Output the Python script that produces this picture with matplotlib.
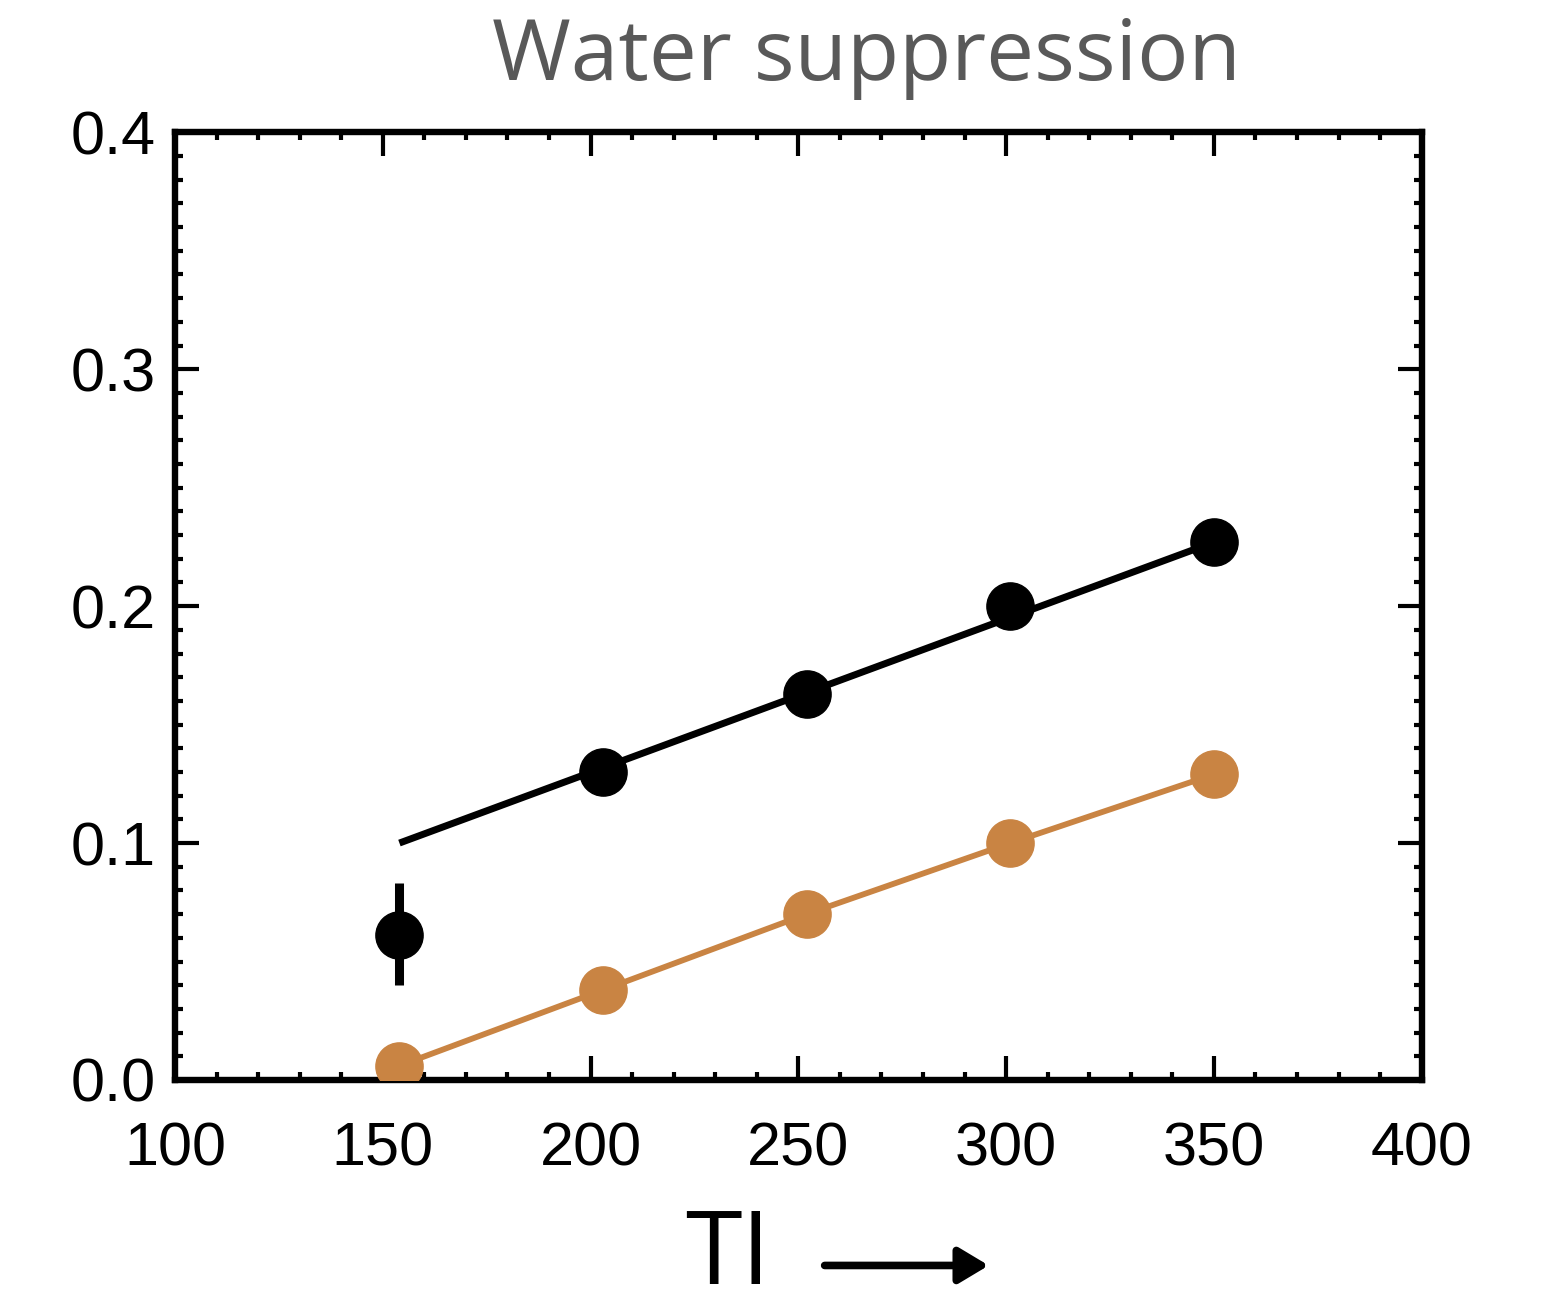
import matplotlib
matplotlib.use("Agg")
import matplotlib.pyplot as plt
from matplotlib.ticker import MultipleLocator

# data
ti = [154, 203, 252, 301, 350]
black_y = [0.061, 0.130, 0.163, 0.200, 0.227]
black_err_lo = [0.021, 0, 0, 0, 0]
black_err_hi = [0.022, 0, 0, 0, 0]
fit_x = [154, 350]
fit_y = [0.100, 0.227]
orange_y = [0.006, 0.038, 0.070, 0.100, 0.129]

xticks = [100, 150, 200, 250, 300, 350, 400]
yticks = [0.0, 0.1, 0.2, 0.3, 0.4]

orange = "#C98443"

fig = plt.figure(figsize=(15.42, 13.10), dpi=100)
ax = fig.add_axes([0.1135, 0.1756, 0.8085, 0.7234])

ax.plot(fit_x, fit_y, color="black", lw=5, solid_capstyle="butt", zorder=2)
ax.plot(ti, orange_y, color=orange, lw=4.2, marker="o", ms=34, zorder=3)
ax.errorbar(ti[:1], black_y[:1], yerr=[black_err_lo[:1], black_err_hi[:1]],
            fmt="none", ecolor="black", elinewidth=6.5, capsize=0, zorder=3)
ax.plot(ti, black_y, ls="none", marker="o", ms=34, color="black", zorder=4)

ax.set_xlim(100, 400)
ax.set_ylim(0, 0.4)
ax.set_xticks(xticks)
ax.set_yticks(yticks)
ax.set_xticklabels([str(v) for v in xticks])
ax.set_yticklabels(["%.1f" % v for v in yticks])
ax.xaxis.set_minor_locator(MultipleLocator(10))
ax.yaxis.set_minor_locator(MultipleLocator(0.01))

for s in ax.spines.values():
    s.set_linewidth(4.6)
ax.tick_params(which="both", direction="in", top=True, right=True, width=3)
ax.tick_params(which="major", length=17)
ax.tick_params(which="minor", length=6)
ax.tick_params(axis="x", which="major", pad=30, labelsize=44)
ax.tick_params(axis="y", which="major", pad=14, labelsize=44)
for lab in ax.get_xticklabels() + ax.get_yticklabels():
    lab.set_family("Liberation Sans")

fig.text(0.562, 0.956, "Water suppression", ha="center", va="center",
         fontsize=61.5, color="#595959", family="Open Sans")
fig.text(0.472, 0.040, "TI", ha="center", va="center",
         fontsize=74, color="black", family="Open Sans")
fig.add_artist(matplotlib.patches.FancyArrowPatch(
    (0.533, 0.034), (0.643, 0.034), transform=fig.transFigure,
    arrowstyle="-|>,head_length=1.5,head_width=0.9", lw=5.5, color="black",
    mutation_scale=12))

fig.savefig("out.png", dpi=100)
